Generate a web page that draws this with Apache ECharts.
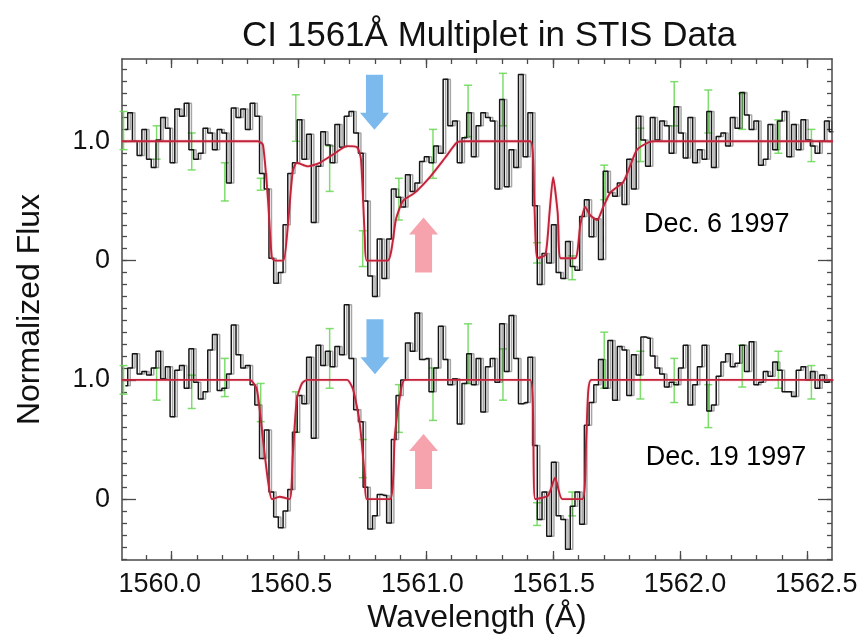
<!DOCTYPE html>
<html><head><meta charset="utf-8">
<script src="https://cdn.jsdelivr.net/npm/echarts@6/dist/echarts.min.js"></script>
<style>html,body{margin:0;padding:0;background:#fff}#c{width:868px;height:639px}</style>
</head><body><div id="c"></div>
<script>
// ---------------- DATA ----------------
const titleText = 'CI 1561Å Multiplet in STIS Data';
const xAxisName = 'Wavelength (Å)';
const yAxisName = 'Normalized Flux';
const binStart = 1559.81;   // Å, left edge of first pixel
const binWidth = 0.0185;    // Å per pixel
const topOffset = 2;        // Dec. 6 spectrum shifted up by 2

// Dec. 6 1997 normalized flux per pixel
const topFlux = [1.10,1.24,1.00,0.88,1.10,0.85,0.78,1.01,1.20,1.11,
 0.82,1.27,1.21,1.32,0.93,0.85,0.90,1.11,1.07,0.93,
 1.10,1.07,0.65,1.28,1.20,1.27,1.10,1.32,1.21,0.73,
 0.60,0.02,-0.19,-0.10,0.30,0.73,0.82,1.18,0.85,1.06,
 0.32,0.79,1.08,0.97,0.82,1.14,0.95,1.21,1.25,1.07,
 0.90,0.50,-0.13,-0.30,0.18,-0.15,0.18,0.60,0.53,0.45,
 0.72,0.58,0.65,0.83,0.87,0.82,0.96,0.90,1.52,1.13,
 1.17,0.82,1.03,1.24,0.87,1.13,1.24,1.20,1.17,0.60,
 1.35,0.62,0.93,0.78,1.56,0.87,1.24,0.46,-0.20,0.06,
 -0.02,0.30,-0.10,-0.15,0.16,-0.05,-0.08,0.37,0.51,0.20,
 0.35,0.01,0.75,0.57,0.54,0.65,0.47,0.85,0.60,1.21,
 1.01,0.79,1.20,1.01,1.17,1.13,0.90,1.29,1.07,0.86,
 1.20,0.82,0.93,0.85,1.25,0.78,1.04,1.07,0.96,1.20,
 1.11,1.41,1.22,1.10,1.17,0.80,0.85,1.14,0.93,1.17,
 1.25,0.87,1.14,0.93,1.18,1.01,0.96,0.90,1.00,1.17,1.08];

// Dec. 19 1997 normalized flux per pixel
const botFlux = [0.95,1.10,1.22,1.05,1.07,1.04,1.10,1.24,1.01,1.11,
 0.69,1.08,1.12,0.93,1.26,0.98,0.84,0.90,1.25,1.38,
 0.91,0.93,1.05,1.46,1.21,1.10,1.12,0.96,0.79,0.34,
 0.58,0.06,-0.15,-0.24,-0.10,0.08,0.56,0.87,0.80,1.19,
 0.51,1.29,1.12,1.24,1.11,1.28,1.21,1.63,1.18,0.75,
 0.65,0.10,-0.25,-0.14,0.04,0.03,-0.20,0.50,0.87,1.00,
 1.31,1.24,1.56,1.17,1.18,0.90,1.10,1.45,1.17,0.96,
 1.01,0.63,0.97,1.22,0.96,1.18,0.73,1.11,1.18,0.98,
 1.47,1.07,1.54,1.18,0.80,0.81,1.19,0.45,-0.17,0.06,
 -0.31,0.31,-0.14,-0.17,-0.42,-0.06,0.06,-0.21,0.62,0.81,
 0.96,1.17,0.93,1.33,0.83,1.28,1.25,0.87,1.21,1.04,
 1.36,1.35,1.20,1.10,1.05,0.94,0.98,0.96,1.10,1.29,
 0.79,0.96,1.11,1.29,0.74,0.79,1.03,1.15,1.22,1.11,
 1.14,1.29,1.07,1.32,0.96,0.98,1.07,1.03,1.15,1.08,
 0.90,0.90,0.86,1.08,1.11,1.00,1.07,0.93,1.04,0.98,1.00];

// model fits
const topModelWave = [1559.805,1560.34,1560.36,1560.38,1560.395,1560.41,1560.44,1560.458,1560.477,1560.493,
 1560.536,1560.583,1560.643,1560.69,1560.73,1560.745,1560.76,1560.768,1560.85,1560.883,
 1560.91,1560.957,1561.016,1561.075,1561.122,1561.154,1561.41,1561.426,1561.438,1561.47,
 1561.486,1561.50,1561.518,1561.53,1561.587,1561.607,1561.626,1561.646,1561.673,1561.697,
 1561.725,1561.776,1561.804,1561.83,1561.874,1561.90,1562.60];
const topModelFlux = [1.00,1.00,0.97,0.50,0.02,0.00,0.00,0.30,0.75,0.82,
 0.79,0.82,0.90,0.96,0.95,0.85,0.20,0.00,0.00,0.35,
 0.50,0.57,0.70,0.86,0.99,1.00,1.00,0.50,0.02,0.05,
 0.40,0.70,0.40,0.02,0.02,0.30,0.45,0.38,0.34,0.45,
 0.57,0.66,0.80,0.93,0.99,1.00,1.00];
const botModelWave = [1559.805,1560.308,1560.336,1560.36,1560.38,1560.395,1560.426,1560.465,1560.477,1560.493,
 1560.513,1560.533,1560.69,1560.714,1560.74,1560.76,1560.768,1560.859,1560.878,1560.898,
 1560.918,1561.41,1561.43,1561.48,1561.508,1561.536,1561.615,1561.63,1561.638,1561.65,1562.60];
const botModelFlux = [1.00,1.00,0.92,0.50,0.15,0.00,0.02,0.00,0.36,0.84,
 0.97,1.00,1.00,0.92,0.64,0.19,0.00,0.00,0.53,0.86,
 1.00,1.00,0.00,0.03,0.18,0.00,0.00,0.50,0.90,1.00,1.00];

// error bars (green)
const errWave = [1559.812,1559.942,1560.080,1560.210,1560.351,1560.489,1560.622,1560.752,1560.894,1561.028,
 1561.166,1561.303,1561.437,1561.575,1561.701,1561.843,1561.976,1562.110,1562.243,1562.385,1562.515];
const topErrLo = [0.93,0.85,0.76,0.50,0.59,1.00,0.58,-0.05,0.34,0.69,1.04,1.13,-0.02,-0.16,0.51,0.83,1.13,1.07,1.10,0.90,0.83];
const topErrHi = [1.25,1.13,1.07,0.82,0.69,1.39,0.96,0.25,0.69,1.10,1.47,1.57,0.15,0.04,0.80,1.11,1.50,1.43,1.40,1.18,1.10];
const botErrLo = [0.88,0.83,0.76,0.86,0.65,0.56,0.93,0.18,0.56,0.66,0.97,0.83,-0.22,-0.14,0.93,0.84,0.81,0.60,0.94,0.93,0.84];
const botErrHi = [1.12,1.10,1.04,1.18,0.97,0.90,1.43,0.50,0.96,1.10,1.47,1.26,-0.03,0.06,1.40,1.24,1.18,0.96,1.29,1.24,1.12];

// arrows (plotted coordinates)
const arrowWave = [1560.798,1560.991,1560.800,1560.991];
const arrowFlux = [3.328,2.131,1.278,0.315];
const arrowDir  = ['down','up','down','up'];

// annotations
const noteText = ['Dec. 6 1997','Dec. 19 1997'];
const noteWave = [1561.855,1561.862];
const noteFlux = [2.300,0.352];

// ticks
const xMajorTicks = [1560.0,1560.5,1561.0,1561.5,1562.0,1562.5];
const yMajorTicks = [0,1,2,3];
const yTickLabels = ['0','1.0','0','1.0'];
// ---------------------------------------

const xMin = 1559.806, xMax = 1562.596, yMin = -0.51, yMax = 3.69;
// the printed tick labels in the original sit on a slightly wider scale than its tick marks
const xLabMin = 1559.856, xLabMax = 1562.560;
const FONT = 'Liberation Sans';
const AX = '#4a4a4a';

function steps(from, to, step){const r=[];for(let v=from; v<=to+1e-9; v+=step) r.push(+v.toFixed(3));return r;}
const xMinorTicks = steps(1559.9, 1562.5, 0.1);
const yMinorTicks = steps(-0.5, 3.6, 0.1);

function mkX(pos, vals, len, main){
  return {type:'value', min:xMin, max:xMax, position:pos,
    axisLine:{show:main, onZero:false, lineStyle:{color:AX, width:1.5}},
    axisTick:{show:true, inside:true, length:len, customValues:vals, lineStyle:{color:AX, width:1.3}},
    axisLabel:{show:false},
    splitLine:{show:false},
    name: (main && pos==='bottom') ? xAxisName : '', nameLocation:'middle', nameGap:42,
    nameTextStyle:{fontFamily:FONT, fontSize:32, color:'#111'}};
}
function mkY(pos, vals, len, main){
  return {type:'value', min:yMin, max:yMax, position:pos,
    axisLine:{show:main, onZero:false, lineStyle:{color:AX, width:1.5}},
    axisTick:{show:true, inside:true, length:len, customValues:vals, lineStyle:{color:AX, width:1.3}},
    axisLabel:{show: main && pos==='left', customValues:vals,
      formatter:v=>{const i=yMajorTicks.findIndex(t=>Math.abs(t-v)<1e-6);return i>=0?yTickLabels[i]:'';},
      fontFamily:FONT, fontSize:27, color:'#111', margin:12},
    splitLine:{show:false},
    name:(main && pos==='left') ? yAxisName : '', nameLocation:'middle', nameGap:76, nameRotate:90,
    nameTextStyle:{fontFamily:FONT, fontSize:32, color:'#111'}};
}
const labelAxis = {type:'value', min:xLabMin, max:xLabMax, position:'bottom',
  axisLine:{show:false}, axisTick:{show:false}, splitLine:{show:false},
  axisLabel:{show:true, customValues:xMajorTicks, formatter:v=>v.toFixed(1),
    fontFamily:FONT, fontSize:27, color:'#111', margin:11}};

const centers = topFlux.map((_,i)=>+(binStart + (i+0.5)*binWidth).toFixed(5));
const topData = topFlux.map((v,i)=>[centers[i], v + topOffset]);
const botData = botFlux.map((v,i)=>[centers[i], v]);
const topModel = topModelWave.map((w,i)=>[w, topModelFlux[i] + topOffset]);
const botModel = botModelWave.map((w,i)=>[w, botModelFlux[i]]);
const errData = [];
errWave.forEach((w,i)=>{errData.push([w, topErrLo[i]+topOffset, topErrHi[i]+topOffset]);});
errWave.forEach((w,i)=>{errData.push([w, botErrLo[i], botErrHi[i]]);});

const downArrow = 'path://M6 0 L23 0 L23 38 L29 38 L14.5 55 L0 38 L6 38 Z';
const upArrow   = 'path://M14.5 0 L29 17 L23 17 L23 55 L6 55 L6 17 L0 17 Z';

const stepLine = (data)=>({type:'line', data, step:'middle', showSymbol:false, symbol:'none',
  xAxisIndex:0, yAxisIndex:0, z:3, animation:false,
  lineStyle:{color:'#151515', width:1.5, shadowColor:'rgba(0,0,0,0.35)', shadowOffsetX:2.5, shadowBlur:0}});
const modelLine = (data)=>({type:'line', data, showSymbol:false, symbol:'none', smooth:0.2,
  xAxisIndex:0, yAxisIndex:0, z:4, animation:false,
  lineStyle:{color:'#c2233a', width:1.9, shadowColor:'rgba(240,120,140,0.5)', shadowBlur:2}});

const chart = echarts.init(document.getElementById('c'));
chart.setOption({
  backgroundColor:'#fff',
  animation:false,
  title:{text:titleText, left:242, top:19, padding:0,
    textStyle:{fontFamily:FONT, fontSize:35, fontWeight:'normal', color:'#111'}},
  grid:{left:122, right:36, top:59, bottom:78, containLabel:false},
  xAxis:[mkX('bottom', xMajorTicks, 9, true), mkX('bottom', xMinorTicks, 5, false),
         mkX('top', xMajorTicks, 9, true), mkX('top', xMinorTicks, 5, false), labelAxis],
  yAxis:[mkY('left', yMajorTicks, 14, true), mkY('left', yMinorTicks, 5, false),
         mkY('right', yMajorTicks, 14, true), mkY('right', yMinorTicks, 5, false)],
  series:[
    {type:'custom', xAxisIndex:0, yAxisIndex:0, z:2, data:errData,
     renderItem:(params, api)=>{
       const x=api.value(0), lo=api.coord([x, api.value(1)]), hi=api.coord([x, api.value(2)]);
       const st={stroke:'rgba(105,215,85,0.85)', lineWidth:1.5};
       return {type:'group', children:[
         {type:'line', shape:{x1:lo[0], y1:lo[1], x2:hi[0], y2:hi[1]}, style:st},
         {type:'line', shape:{x1:lo[0]-4, y1:lo[1], x2:lo[0]+4, y2:lo[1]}, style:st},
         {type:'line', shape:{x1:hi[0]-4, y1:hi[1], x2:hi[0]+4, y2:hi[1]}, style:st}]};
     }},
    stepLine(topData), stepLine(botData),
    modelLine(topModel), modelLine(botModel),
    {type:'scatter', xAxisIndex:0, yAxisIndex:0, z:5, silent:true,
     data: arrowWave.map((w,i)=>({value:[w, arrowFlux[i]],
        symbol: arrowDir[i]==='down'?downArrow:upArrow,
        itemStyle:{color: arrowDir[i]==='down' ? '#5ba8e8' : '#f48c9a'}})),
     symbolSize:[29,55]},
    {type:'scatter', xAxisIndex:0, yAxisIndex:0, z:6, silent:true, symbolSize:1,
     itemStyle:{color:'rgba(0,0,0,0)'},
     data: noteWave.map((w,i)=>({value:[w, noteFlux[i]], name:noteText[i]})),
     label:{show:true, position:'right', distance:0, formatter:p=>p.name,
       fontFamily:FONT, fontSize:27, color:'#000', opacity:1, textBorderWidth:0}}
  ]
});
</script></body></html>
